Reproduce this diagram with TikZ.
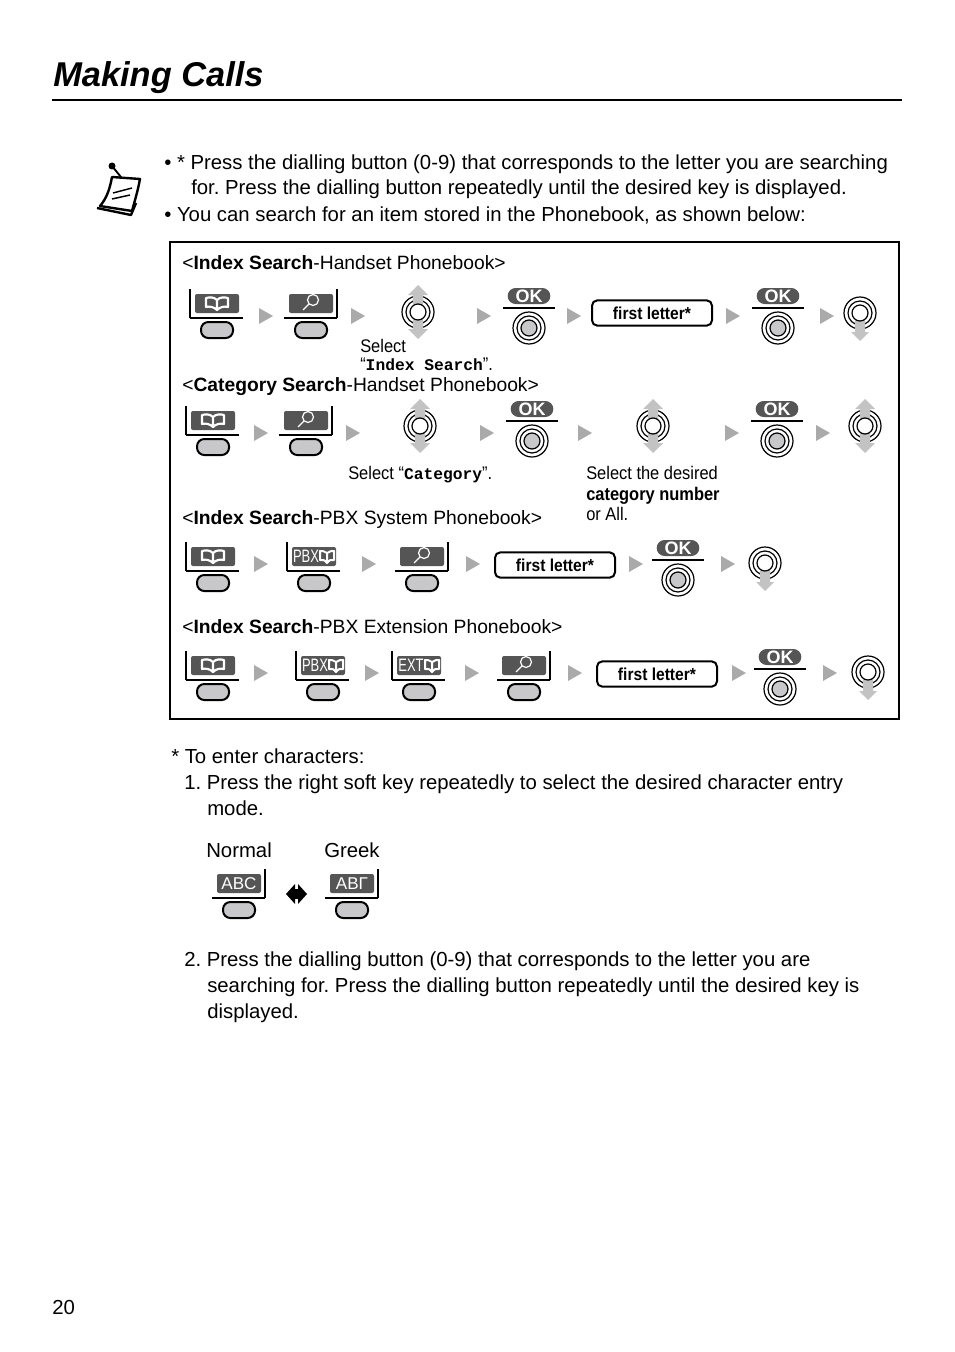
\documentclass[tikz,border=0pt]{standalone}
\usepackage{fontspec}
\setmainfont{Liberation Sans}
\setmonofont{Liberation Mono}
\newfontfamily\narrowfam[FakeStretch=0.9]{Liberation Sans}
\newfontfamily\glyphfam[FakeStretch=0.72]{Liberation Sans}
\usetikzlibrary{positioning}
\definecolor{keydark}{RGB}{85, 85, 85}
\definecolor{keygray}{RGB}{200, 200, 202}
\definecolor{markgray}{RGB}{170, 170, 170}
\definecolor{navgray}{RGB}{195, 195, 195}
\frenchspacing
\newcommand{\bodyfont}{\fontsize{15.25}{18}\selectfont}
\newcommand{\headfont}{\fontsize{14.45}{17}\selectfont}
\newcommand{\notefont}{\narrowfam\fontsize{13.7}{17}\selectfont}
\newcommand{\bookglyph}{%
  \draw[white, line width=1.6pt, line join=round, shift={(0,-15)}] (0,-3) .. controls (-3,-6) and (-7,-6) .. (-11,-5) -- (-11,4) .. controls (-7,3) and (-3,4) .. (0,7) .. controls (3,4) and (7,3) .. (11,4) -- (11,-5) .. controls (7,-6) and (3,-6) .. (0,-3) -- (0,7);}
\newcommand{\lensglyph}{%
  \draw[white, line width=.9pt, shift={(0,-16)}] (2,-2) circle (5.5) (-2,2) -- (-8,8);}
\newcommand{\smallbook}{%
  \draw[white, line width=1.5pt, line join=round, shift={(13,-15)}] (0,-3) .. controls (-2,-5) and (-5,-5) .. (-7,-5) -- (-7,4) .. controls (-5,3) and (-2,4) .. (0,7) .. controls (2,4) and (5,3) .. (7,4) -- (7,-5) .. controls (5,-5) and (2,-5) .. (0,-3) -- (0,7);}
\newcommand{\pbxglyph}{\node[glyphtext] (-text) at (-8,-15) {PBX};\smallbook}
\newcommand{\extglyph}{\node[glyphtext] (-text) at (-8,-15) {EXT};\smallbook}
\tikzset{
  bodytext/.style={anchor=base west, inner sep=0pt, font=\bodyfont},
  headtext/.style={anchor=base west, inner sep=0pt, font=\headfont},
  notetext/.style={anchor=base west, inner sep=0pt, font=\notefont},
  glyphtext/.style={inner sep=0pt, text=white, font=\glyphfam\fontsize{13.5}{15}\selectfont},
  lettbox/.style={draw, line width=1.5pt, rounded corners=4pt, minimum width=90pt, minimum height=19pt, inner sep=0pt, font=\narrowfam\bfseries\fontsize{13}{15}\selectfont},
  okpill/.style={fill=keydark, rounded corners=6pt, minimum width=32pt, minimum height=12pt, inner sep=0pt, text=white, font=\bfseries\fontsize{13.5}{15}\selectfont},
  keyline/.style={line width=1.5pt},
  pics/softkey/.style 2 args={code={
    \fill[keydark, rounded corners=1.5pt] (-22,-24) rectangle (22,-5);
    #2
    \draw[keyline] (#1,-29) -- (#1,0);
    \draw[keyline] (-27,0) -- (26,0);
    \draw[keyline, fill=keygray, rounded corners=5.5pt] (-16,4) rectangle (16,20);
  }},
  pics/okkey/.style={code={
    \node[okpill] (-ok) at (0,-12) {OK};
    \draw[line width=1pt] (-26,0) -- (26,0);
    \draw[line width=.9pt] (0,20) circle (16) (0,20) circle (12);
    \draw[line width=.9pt, fill=keygray] (0,20) circle (8);
  }},
  pics/navboth/.style={code={
    \draw[line width=.9pt] (0,0) circle (16) (0,0) circle (12);
    \fill[navgray] (-5,0) -- (-5,-17) -- (-10,-17) -- (0,-27) -- (10,-17) -- (5,-17) -- (5,17) -- (10,17) -- (0,27) -- (-10,17) -- (-5,17) -- cycle;
    \draw[line width=.9pt, fill=white] (0,0) circle (8);
  }},
  pics/navdown/.style={code={
    \draw[line width=.9pt] (0,0) circle (16) (0,0) circle (12);
    \fill[navgray] (-5,0) -- (5,0) -- (5,19) -- (9,19) -- (0,28) -- (-9,19) -- (-5,19) -- cycle;
    \draw[line width=.9pt, fill=white] (0,0) circle (8);
  }}
}

\begin{document}
\begin{tikzpicture}[x=0.75pt, y=-0.75pt]
  \useasboundingbox (0,0) rectangle (954,1352);

  % page head
  \node[anchor=base west, inner sep=0pt, font=\bfseries\itshape\fontsize{25.8}{30}\selectfont] (title) at (53,87) {Making Calls};
  \draw[line width=2.2pt] (52,100) -- (902,100);

  % note sign
  \fill (112,166) circle (3.5);
  \draw[line width=1.4pt] (112,166) -- (125,182);
  \draw[line width=1.8pt, line join=round, fill=white] (112,177) -- (140,179) .. controls (138,190) and (135,200) .. (132,211) -- (100,206) .. controls (107,198) and (110,188) .. (112,177) -- cycle;
  \draw[line width=1.8pt, line join=round] (97,208) -- (131,215) -- (136,203);
  \draw[line width=1.1pt] (113,193) -- (132,188) (112,199) -- (130,195);

  \node[bodytext] (note1) at (164,170) {• * Press the dialling button (0-9) that corresponds to the letter you are searching};
  \node[bodytext] (note2) at (191,195) {for. Press the dialling button repeatedly until the desired key is displayed.};
  \node[bodytext] (note3) at (164,221) {• You can search for an item stored in the Phonebook, as shown below:};

  % frame
  \draw[line width=1.5pt] (170,242) rectangle (899,719);

  % handset index
  \node[headtext] (head1) at (182,269) {<\textbf{Index Search}-Handset Phonebook>};
  \pic (hibook) at (217,318) {softkey={-27}{\bookglyph}};
  \pic (hilens) at (311,318) {softkey={26}{\lensglyph}};
  \pic (hinav) at (418,312) {navboth};
  \pic (hiok) at (529,308) {okkey};
  \node[lettbox] (hifirst) at (652,313) {first letter*};
  \pic (hiokb) at (778,308) {okkey};
  \pic (hiend) at (860,313) {navdown};
  \node[notetext] (hisel) at (360,352) {Select};
  \node[notetext] (hiname) at (360,370) {“{\ttfamily\bfseries\fontsize{12.2}{15}\selectfont Index Search}”.};
  \foreach \x in {259,351,477,567,726,820}
    \fill[markgray] (\x,308) -- ++(14,8) -- ++(-14,8) -- cycle;

  % handset category
  \node[headtext] (head2) at (182,391) {<\textbf{Category Search}-Handset Phonebook>};
  \pic (hcbook) at (213,435) {softkey={-27}{\bookglyph}};
  \pic (hclens) at (306,435) {softkey={26}{\lensglyph}};
  \pic (hcnav) at (420,426) {navboth};
  \pic (hcok) at (532,421) {okkey};
  \pic (hcnavb) at (653,426) {navboth};
  \pic (hcokb) at (777,421) {okkey};
  \pic (hcend) at (865,426) {navboth};
  \node[notetext] (hcsel) at (348,479) {Select “{\ttfamily\bfseries\fontsize{12.2}{15}\selectfont Category}”.};
  \node[notetext] (hcnum) at (586,479) {Select the desired};
  \node[notetext] (hcnumb) at (586,500) {\bfseries category number};
  \node[notetext] (hcnumc) at (586,520) {or All.};
  \foreach \x in {254,346,480,578,725,816}
    \fill[markgray] (\x,425) -- ++(14,8) -- ++(-14,8) -- cycle;

  % system index
  \node[headtext] (head3) at (182,524) {<\textbf{Index Search}-PBX System Phonebook>};
  \pic (sibook) at (213,571) {softkey={-27}{\bookglyph}};
  \pic (sipbx) at (314,571) {softkey={-27}{\pbxglyph}};
  \pic (silens) at (422,571) {softkey={26}{\lensglyph}};
  \node[lettbox] (sifirst) at (555,565) {first letter*};
  \pic (siok) at (678,560) {okkey};
  \pic (siend) at (765,563) {navdown};
  \foreach \x in {254,362,466,629,721}
    \fill[markgray] (\x,556) -- ++(14,8) -- ++(-14,8) -- cycle;

  % extension index
  \node[headtext] (head4) at (182,633) {<\textbf{Index Search}-PBX Extension Phonebook>};
  \pic (eibook) at (213,680) {softkey={-27}{\bookglyph}};
  \pic (eipbx) at (323,680) {softkey={-27}{\pbxglyph}};
  \pic (eiext) at (419,680) {softkey={-27}{\extglyph}};
  \pic (eilens) at (524,680) {softkey={26}{\lensglyph}};
  \node[lettbox] (eifirst) at (657,674) {first letter*};
  \pic (eiok) at (780,669) {okkey};
  \pic (eiend) at (868,672) {navdown};
  \foreach \x in {254,365,465,568,732,823}
    \fill[markgray] (\x,665) -- ++(14,8) -- ++(-14,8) -- cycle;

  % characters
  \node[bodytext] (char0) at (171,763) {* To enter characters:};
  \node[bodytext] (char1) at (184,789) {1. Press the right soft key repeatedly to select the desired character entry};
  \node[bodytext] (char2) at (207,815) {mode.};
  \node[bodytext] (normal) at (206,857) {Normal};
  \node[bodytext] (greek) at (324,857) {Greek};
  \pic (abckey) at (239,898) {softkey={26}{\node[glyphtext, font=\fontsize{12.8}{15}\selectfont] (-text) at (0,-14) {ABC};}};
  \pic (abgkey) at (352,898) {softkey={26}{\node[glyphtext, font=\fontsize{12.8}{15}\selectfont] (-text) at (0,-14) {ΑΒΓ};}};
  \fill (286,894) -- (295,884) -- (295,904) -- cycle;
  \fill (307,894) -- (298,884) -- (298,904) -- cycle;
  \fill (294,889) rectangle (299,899);
  \node[bodytext] (char3) at (184,966) {2. Press the dialling button (0-9) that corresponds to the letter you are};
  \node[bodytext] (char4) at (207,992) {searching for. Press the dialling button repeatedly until the desired key is};
  \node[bodytext] (char5) at (207,1018) {displayed.};

  \node[bodytext] (pageno) at (52,1314) {20};
\end{tikzpicture}
\end{document}
